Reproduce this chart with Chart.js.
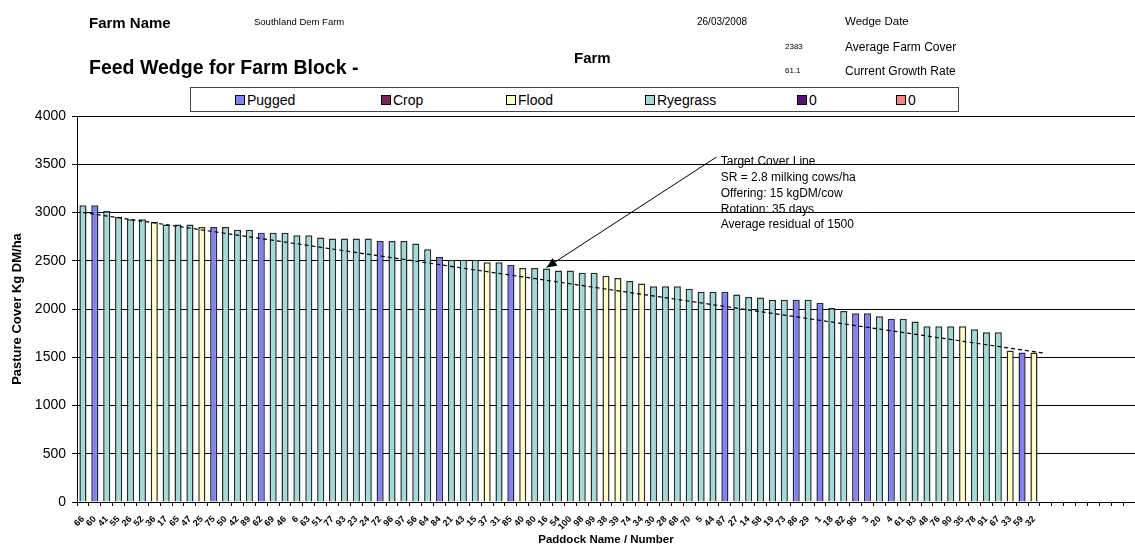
<!DOCTYPE html>
<html>
<head>
<meta charset="utf-8">
<script src="https://cdn.jsdelivr.net/npm/chart.js@4.4.1/dist/chart.umd.min.js"></script>
<style>
  html, body { margin: 0; padding: 0; background: #fff; }
  #wrap { position: relative; width: 1135px; height: 547px; font-family: Arial, "Liberation Sans", sans-serif; color: #000; }
  #wrap canvas { position: absolute; left: 0; top: 0; }
  .t { position: absolute; white-space: nowrap; line-height: 1; }
  .b { font-weight: bold; }
  #legend { position: absolute; left: 190px; top: 87px; width: 767px; height: 23px; border: 1px solid #444; background: #fff; }
  .li { position: absolute; top: 4px; font-size: 14px; line-height: 16px; white-space: nowrap; }
  .li i { display: inline-block; width: 8px; height: 8px; border: 1px solid #000; margin-right: 2px; vertical-align: 0px; }
</style>
</head>
<body>
<div id="wrap">
  <canvas id="wedge" width="1135" height="547"></canvas>
  <div class="t b" style="left:89px;top:15px;font-size:15px">Farm Name</div>
  <div class="t" style="left:254px;top:17px;font-size:9.5px">Southland Dem Farm</div>
  <div class="t" style="left:697px;top:17px;font-size:10px">26/03/2008</div>
  <div class="t" style="left:845px;top:16px;font-size:11.5px">Wedge Date</div>
  <div class="t b" style="left:574px;top:50px;font-size:15px">Farm</div>
  <div class="t" style="left:785px;top:43px;font-size:8px">2383</div>
  <div class="t" style="left:845px;top:41px;font-size:12px">Average Farm Cover</div>
  <div class="t b" style="left:89px;top:58px;font-size:19.5px">Feed Wedge for Farm Block -</div>
  <div class="t" style="left:785px;top:67px;font-size:8px">61.1</div>
  <div class="t" style="left:845px;top:65px;font-size:12px">Current Growth Rate</div>
  <div id="legend"></div>
</div>
<script>
// ── Feed wedge: pasture cover per paddock, sorted high → low ──────────────────
// Each paddock sits in one series (by paddock state), plus the dashed target line.

const paddocks = ['66','60','41','55','26','52','36','17','65','47','25','75','50','42','89','62','69','46','6','63',
  '51','77','93','23','24','72','96','97','56','64','84','21','43','15','37','31','85','40','80','16',
  '54','100','98','99','38','39','74','34','30','28','68','70','5','44','87','27','14','58','19','73',
  '86','29','1','18','82','95','3','20','4','61','83','48','76','90','35','78','91','67','33','59','32'];

const covers = [3075,3075,3015,2955,2930,2930,2905,2875,2875,2875,2850,2850,2850,2820,2820,2790,2790,2790,2765,2765,
  2740,2730,2730,2730,2730,2705,2705,2705,2680,2620,2540,2510,2510,2510,2485,2485,2455,2425,2425,2420,
  2400,2400,2375,2375,2345,2320,2290,2265,2235,2235,2235,2210,2180,2180,2180,2150,2125,2120,2095,2095,
  2095,2095,2065,2010,1980,1955,1955,1925,1900,1900,1870,1820,1820,1820,1820,1790,1760,1760,1570,1550,1550];

// P = Pugged, F = Flood, R = Ryegrass
const states = ['R','P','R','R','R','R','F','R','R','R','F','P','R','R','R','P','R','R','R','R',
  'R','R','R','R','R','P','R','R','R','R','P','R','R','R','F','R','P','F','R','R',
  'R','R','R','R','F','F','R','F','R','R','R','R','R','R','P','R','R','R','R','R',
  'P','R','P','R','R','P','P','R','P','R','R','R','R','R','F','R','R','R','F','P','F'];

const seriesNames  = ['Pugged','Crop','Flood','Ryegrass','0','0'];
const seriesKeys   = ['P','C','F','R','X','Y'];
const seriesColors = ['#8080ff','#7f1f5f','#ffffc0','#9edcda','#5c0a80','#ff8080'];

const emptySlots = 8;                 // unused paddock slots at the right
const targetStart = 3000;             // target cover at first paddock
const targetEnd   = 1540;             // target cover one slot past last paddock
const yTicks = [0, 500, 1000, 1500, 2000, 2500, 3000, 3500, 4000];

const noteLines = ['Target Cover Line','SR = 2.8 milking cows/ha','Offering: 15 kgDM/cow','Rotation: 35 days','Average residual of 1500'];

// layout only
const LEGEND_X = [44, 190, 315, 454, 606, 705];
const NOTE = { tipIndex: 39, tipValue: 2430, fromIndex: 53.3, fromValue: 3575, textIndex: 53.65, textValue: 3525 };

const labels = [...paddocks, ...Array(emptySlots).fill('')];

const barSets = seriesKeys.map((k, i) => ({
  type: 'bar', label: seriesNames[i], order: 2,
  data: labels.map((_, j) => states[j] === k ? covers[j] : null),
  backgroundColor: seriesColors[i], borderColor: '#2a2a2a', borderWidth: 1.5,
  barPercentage: 0.6, categoryPercentage: 1,
}));

const target = labels.map(() => null);
target[0] = targetStart;
target[paddocks.length] = targetEnd;

const lineSet = {
  type: 'line', label: 'Target', order: 0, data: target, spanGaps: true,
  borderColor: '#000', borderWidth: 1.2, borderDash: [4, 3], pointRadius: 0, fill: false,
};

// legend (HTML, Excel style)
const lg = document.getElementById('legend');
seriesNames.forEach((n, i) => {
  const d = document.createElement('div');
  d.className = 'li';
  d.style.left = LEGEND_X[i] + 'px';
  d.innerHTML = `<i style="background:${seriesColors[i]}"></i>`;
  d.appendChild(document.createTextNode(n));
  lg.appendChild(d);
});

const notePlugin = {
  id: 'note',
  afterDatasetsDraw(chart) {
    const { ctx, scales: { x, y } } = chart;
    const tx = x.getPixelForValue(NOTE.tipIndex), ty = y.getPixelForValue(NOTE.tipValue);
    const fx = x.getPixelForValue(NOTE.fromIndex), fy = y.getPixelForValue(NOTE.fromValue);
    ctx.save();
    ctx.strokeStyle = '#000'; ctx.fillStyle = '#000'; ctx.lineWidth = 1;
    ctx.beginPath(); ctx.moveTo(fx, fy); ctx.lineTo(tx, ty); ctx.stroke();
    const a = Math.atan2(ty - fy, tx - fx), L = 10, W = 4.5;
    ctx.beginPath();
    ctx.moveTo(tx, ty);
    ctx.lineTo(tx - L * Math.cos(a) + W * Math.sin(a), ty - L * Math.sin(a) - W * Math.cos(a));
    ctx.lineTo(tx - L * Math.cos(a) - W * Math.sin(a), ty - L * Math.sin(a) + W * Math.cos(a));
    ctx.closePath(); ctx.fill();
    ctx.font = '12px Arial, "Liberation Sans", sans-serif';
    ctx.textBaseline = 'middle';
    const lx = x.getPixelForValue(NOTE.textIndex), ly = y.getPixelForValue(NOTE.textValue);
    noteLines.forEach((s, i) => ctx.fillText(s, lx, ly + i * 15.8));
    ctx.restore();
  },
};

Chart.defaults.font.family = 'Arial, "Liberation Sans", sans-serif';
Chart.defaults.color = '#000';

new Chart(document.getElementById('wedge'), {
  data: { labels, datasets: [lineSet, ...barSets] },
  options: {
    responsive: false, animation: false,
    layout: { padding: { top: 116, right: 0, bottom: 0, left: 0 } },
    plugins: { legend: { display: false }, tooltip: { enabled: false } },
    scales: {
      x: {
        stacked: true, offset: true,
        afterFit: s => { s.height = 45; s.paddingLeft = 0; s.paddingRight = 0; },
        grid: { offset: true, drawOnChartArea: false, drawTicks: true, tickLength: 4, color: '#000' },
        border: { display: true, color: '#000', width: 1 },
        ticks: { autoSkip: false, maxRotation: 45, minRotation: 45, padding: 8, font: { size: 9, weight: 'bold' } },
        title: { display: true, text: 'Paddock Name / Number', font: { size: 11.5, weight: 'bold' }, padding: { top: 0, bottom: 0 } },
      },
      y: {
        min: 0, max: 4000,
        afterFit: s => { s.width = 77; },
        afterBuildTicks: s => { s.ticks = yTicks.map(v => ({ value: v })); },
        grid: { color: '#000', lineWidth: 1, tickLength: 5 },
        border: { display: true, color: '#000', width: 1 },
        ticks: { padding: 6, font: { size: 14 }, callback: v => String(v) },
        title: { display: true, text: 'Pasture Cover Kg DM/ha', font: { size: 13, weight: 'bold' }, padding: { top: 10, bottom: 0 } },
      },
    },
  },
  plugins: [notePlugin],
});
</script>
</body>
</html>
